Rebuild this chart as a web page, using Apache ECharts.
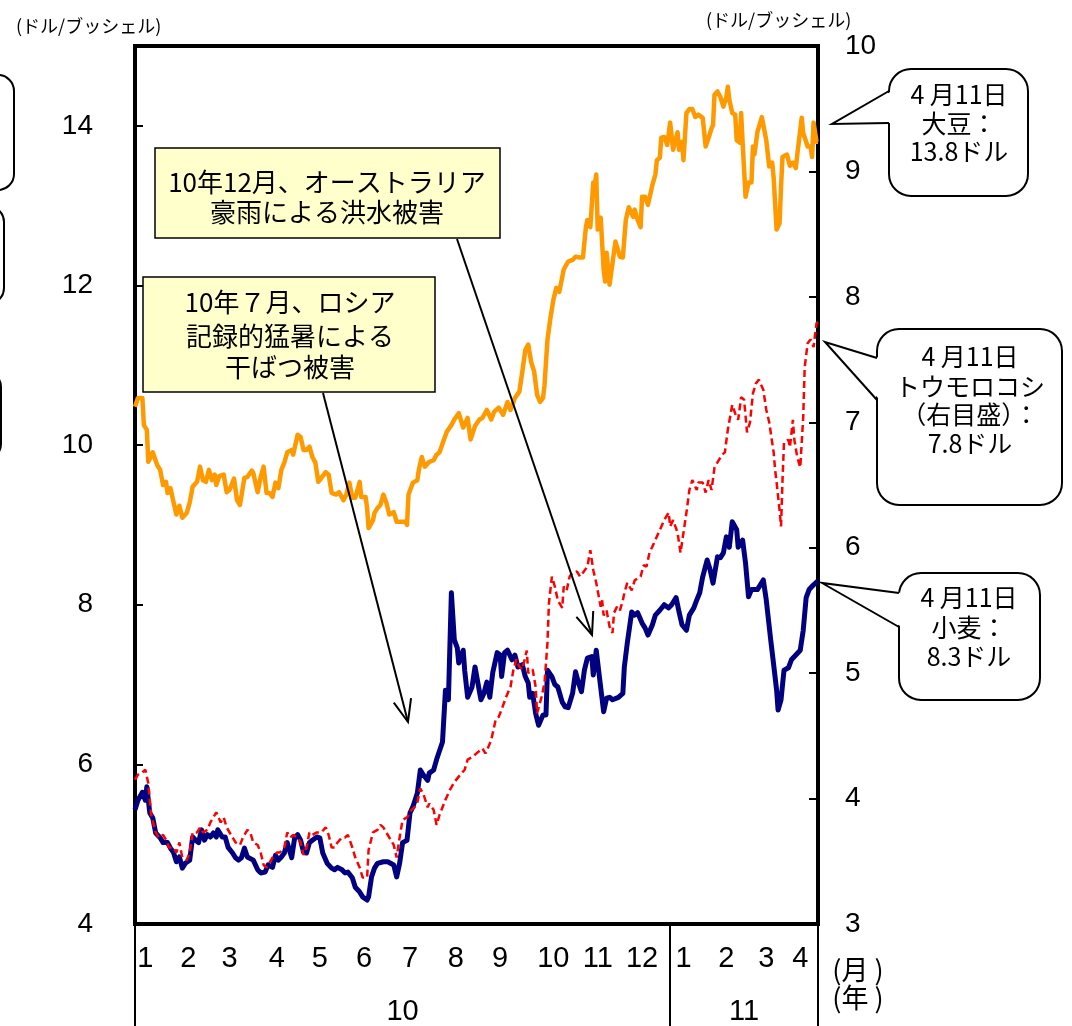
<!DOCTYPE html>
<html>
<head>
<meta charset="utf-8">
<script src="https://cdn.jsdelivr.net/npm/echarts@6/dist/echarts.min.js"></script>
<style>
  html, body { margin: 0; padding: 0; background: #fff; }
  #chart { width: 1072px; height: 1026px; }
</style>
</head>
<body>
<div id="chart"></div>
<script>
// Grain futures, Jan 2010 – Apr 11 2011 (US$ per bushel).
// Day values are days counted from 2010-01-01.

// Soybeans (left scale)
const soyDays = [
  3,5,8,9,11,12,15,18,20,22, 24,25,27,29,31,33,35,38,40,42,
  45,47,49,51,53,55,57,58,60,63, 65,67,70,72,74,77,79,82,83,86,
  88,90,92,94,96,98,100,102,104,106, 109,110,113,115,117,119,121,123,125,127,
  129,132,134,136,139,141,144,146,148,150, 152,155,156,159,160,161,164,165,167,169,
  171,173,175,178,180,184,186,187,188,191, 194,195,197,199,202,
  205,207,209,212,214,217,219,222,225,228, 230,233,236,238,241,244,246,249,252,255,
  257,260,263,265,267,269,271,273,275,277, 279,280,282,284,286,288,290,293,296,299, 301,
  304,306,308,309,311,313,314,315,316,318, 320,321,322,324,326,328,329,331,333,335,
  337,340,341,343,345,346,348,350,353,355, 356,358,359,361,363,365,367,368,370,371,
  373,374,376,378,380,382,384,387,389,391, 393,394,395,397,399,401,403,404,405,407,
  409,410,412,413,414,416,418,420,421,422, 424,427,428,430,432,434,435,437,439,440,
  441,444,446,448,450,451,454,455,458,460, 461,462,464,465
];
const soyPrices = [
  10.48,10.59,10.59,10.25,10.19,9.79,9.91,9.75,9.69,9.50, 9.54,9.40,9.46,9.29,9.13,9.24,9.09,9.15,9.28,9.48,
  9.54,9.73,9.56,9.54,9.69,9.56,9.63,9.50,9.61,9.63, 9.41,9.44,9.58,9.31,9.25,9.59,9.60,9.68,9.65,9.41,
  9.60,9.73,9.40,9.40,9.35,9.53,9.46,9.69,9.78,9.91, 9.94,9.88,10.13,10.10,9.94,9.94,9.98,9.85,9.78,9.54,
  9.59,9.66,9.63,9.40,9.38,9.41,9.31,9.38,9.53,9.34, 9.34,9.54,9.35,9.35,9.21,8.96,9.06,9.15,9.21,9.25,
  9.38,9.28,9.13,9.16,9.04,9.04,9.04,9.00,9.38,9.53, 9.56,9.69,9.85,9.73,9.79,
  9.81,9.88,9.91,10.07,10.17,10.25,10.32,10.40,10.22,10.34, 10.07,10.24,10.32,10.34,10.44,10.32,10.42,10.47,10.38,10.54,
  10.44,10.59,10.67,10.92,11.19,11.26,11.04,10.92,10.63,10.54, 10.59,10.75,11.32,11.59,11.82,11.97,11.92,12.20,12.30,12.32, 12.36,
  12.35,12.35,12.73,12.82,12.73,13.29,13.26,13.39,12.70,12.85, 12.20,12.05,12.41,12.01,12.28,12.55,12.53,12.36,12.35,12.82,
  12.98,12.86,12.95,12.82,12.73,13.11,13.11,13.01,13.26,13.39, 13.57,13.60,13.85,13.86,13.76,14.04,13.70,13.72,13.92,13.70,
  13.80,13.57,14.16,14.21,14.21,14.11,14.14,14.10,13.74,13.85, 13.97,14.01,14.39,14.43,14.36,14.24,14.36,14.49,14.33,14.16,
  14.14,13.82,13.79,14.16,13.80,13.11,13.29,13.29,13.74,13.64, 13.92,14.11,14.10,13.82,13.49,13.54,13.35,12.70,12.78,13.24,
  13.61,13.64,13.50,13.54,13.47,13.64,14.10,13.91,13.74,13.74, 13.61,14.04,13.80,13.80
];

// Wheat (left scale)
const wheatDays = [
  3,5,8,10,11,13,15,17,20,22, 25,27,29,31,33,35,37,40,42,44,
  46,48,50,52,54,56,58,59,62,64, 66,69,71,73,75,77,79,83,86,88,
  91,93,96,98,100,102,104,106,109,111, 113,115,117,119,121,123,126,128,130,133,
  136,138,140,143,145,147,150,152,155,157, 160,161,163,165,167,171,174,178,180,182,
  184,187,189,191,194,196,198,201,202,205, 207,211,213,215,217,219,221,222,225,226,
  228,231,233,234,237,239,241,243,245,248, 250,251,253,255,258,260,262,265,267,269,
  270,272,274,276,279,281,282,285,287,289, 292,294,296,299,301,303,305,307,309,312,
  313,315,317,318,320,322,324,326,330,333, 334,336,339,341,343,346,348,350,353,355,
  358,361,364,366,369,371,373,376,378,381, 383,385,387,390,392,394,397,399,401,403,
  405,407,410,411,414,416,418,420,424,428, 430,433,435,437,438,440,442,445,447,450,
  453,455,457,459,462,465
];
const wheatPrices = [
  5.43,5.55,5.65,5.55,5.72,5.39,5.33,5.14,5.08,5.02, 5.02,4.95,4.90,4.78,4.84,4.70,4.76,4.80,5.09,5.05,
  5.02,5.18,5.05,5.12,5.09,5.14,5.09,5.18,5.09,5.09, 4.96,4.89,4.83,4.80,4.83,4.95,4.84,4.80,4.68,4.64,
  4.65,4.74,4.71,4.86,4.80,4.84,4.89,5.02,4.83,5.08, 5.12,5.05,4.90,4.89,5.02,5.05,5.09,5.08,4.89,4.76,
  4.70,4.68,4.71,4.68,4.64,4.65,4.58,4.46,4.40,4.34, 4.30,4.34,4.59,4.70,4.76,4.78,4.78,4.74,4.59,4.76,
  5.02,5.05,5.39,5.47,5.64,5.93,5.87,5.80,5.89,5.93, 6.06,6.28,6.93,6.81,8.15,7.56,7.46,7.27,7.43,7.18,
  6.84,6.97,7.22,7.22,6.81,6.89,7.03,6.84,7.15,7.40, 7.37,7.10,7.40,7.43,7.31,7.37,7.22,7.25,7.10,7.02,
  6.84,6.89,6.64,6.49,6.62,6.62,7.18,7.10,7.00,6.97, 6.78,6.72,6.71,6.89,7.16,7.02,6.91,7.18,7.33,7.35,
  7.12,7.43,7.12,7.12,6.66,6.83,6.84,6.81,6.84,6.89, 7.22,7.52,7.91,7.87,7.90,7.77,7.71,7.62,7.75,7.87,
  7.93,8.00,7.96,8.00,8.09,7.91,7.75,7.68,7.87,7.96, 8.06,8.15,8.35,8.56,8.44,8.27,8.60,8.59,8.65,8.85,
  8.72,9.04,8.94,8.72,8.81,8.52,8.10,8.19,8.19,8.31, 8.06,7.56,7.25,6.93,6.68,6.81,7.18,7.21,7.31,7.37,
  7.43,7.68,8.09,8.19,8.25,8.30
];

// Corn (right scale)
const cornDays = [
  3,5,8,10,12,14,17,19,22,24, 26,29,31,33,35,38,40,42,45,47,
  49,52,54,56,58,61,63,65,69,71, 74,76,79,81,83,86,88,90,92,94,
  96,99,101,104,106,108,110,113,115,117, 119,121,123,126,129,132,134,136,138,140,
  143,145,147,150,152,155,157,160,161,164, 167,169,171,173,176,178,180,182,184,187,
  190,192,194,196,198,201,202,205,207,209, 213,216,219,223,226,228,231,234,238,240,
  242,244,247,249,251,254,257,259,261,263, 265,268,269,272,274,275,278,280,282,283,
  285,287,289,292,293,295,297,299,302,304, 306,309,311,313,315,318,319,320,322,324,
  326,327,329,331,333,334,336,339,341,345, 347,349,351,353,356,358,361,364,365,367,
  370,372,374,376,378,380,383,384,387,389, 391,393,395,397,400,402,404,407,409,411,
  413,415,417,419,421,423,425,428,430,432, 435,436,437,439,440,441,442,445,446,448,
  449,451,453,455,456,458,460,462,464,465
];
const cornPrices = [
  4.15,4.19,4.21,4.23,4.12,3.87,3.73,3.69,3.71,3.67, 3.61,3.61,3.57,3.65,3.53,3.51,3.57,3.73,3.73,3.77,
  3.73,3.75,3.81,3.85,3.89,3.81,3.85,3.77,3.69,3.65, 3.63,3.69,3.75,3.73,3.65,3.63,3.57,3.47,3.45,3.49,
  3.53,3.57,3.57,3.61,3.73,3.69,3.71,3.69,3.65,3.55, 3.61,3.73,3.71,3.73,3.73,3.77,3.71,3.61,3.61,3.65,
  3.69,3.69,3.71,3.61,3.53,3.45,3.37,3.37,3.59,3.73, 3.75,3.79,3.77,3.73,3.67,3.63,3.53,3.69,3.83,3.85,
  3.91,3.93,3.97,4.08,4.04,3.93,3.96,3.91,3.79,3.87, 3.99,4.07,4.13,4.19,4.23,4.31,4.33,4.36,4.40,4.36,
  4.41,4.47,4.63,4.65,4.71,4.81,4.89,5.03,5.11,5.05, 5.03,5.18,5.00,5.03,4.89,4.68,4.81,4.92,5.24,5.56,
  5.77,5.69,5.58,5.52,5.69,5.66,5.77,5.80,5.81,5.77, 5.80,5.85,5.98,5.82,5.72,5.53,5.58,5.46,5.50,5.37,
  5.32,5.48,5.53,5.50,5.58,5.64,5.72,5.66,5.74,5.77, 5.86,5.85,5.96,6.01,6.09,6.14,6.22,6.28,6.17,6.22,
  6.12,5.96,6.12,6.28,6.46,6.54,6.46,6.52,6.52,6.44, 6.54,6.46,6.64,6.68,6.74,6.76,6.94,7.14,7.07,7.02,
  7.20,7.18,6.92,7.00,7.23,7.31,7.34,7.26,7.10,7.00, 6.76,6.62,6.52,6.30,6.17,6.54,6.84,6.86,6.80,7.02,
  6.86,6.72,6.64,7.04,7.44,7.63,7.66,7.60,7.79,7.80
];

// Axis labels
const monthLabels = ['1','2','3','4','5','6','7','8','9','10','11','12','1','2','3','4'];
const yearLabels = ['10', '11'];

// ---- layout ----
const DAY_MIN = 3, DAY_MAX = 465;               // 2010-01-04 .. 2011-04-11
const monthLabelAt = [10,39,67,99,128,158,189,220,250,286,316,346,374,403,430,453];
const yearLabelAt = [184, 415];
const yearBreaks = [3, 365, 465];
const CJK = '"Noto Sans CJK JP", "Noto Sans CJK SC", sans-serif';
const LAT = '"Liberation Sans", Arial, sans-serif';
const NARROW = '"Liberation Sans Narrow", "Liberation Sans", Arial, sans-serif';

const zip = (a, b) => a.map((d, i) => [d, b[i]]);

const chart = echarts.init(document.getElementById('chart'), null, { renderer: 'canvas' });

const option = {
  animation: false,
  backgroundColor: '#fff',
  grid: {
    left: 135, right: 254, top: 46, bottom: 102,
    show: true, borderColor: '#000', borderWidth: 4, backgroundColor: 'transparent'
  },
  xAxis: {
    type: 'value', min: DAY_MIN, max: DAY_MAX,
    splitLine: { show: false },
    axisLine: { show: false },
    axisTick: {
      show: true, inside: false, length: 102,
      customValues: yearBreaks,
      lineStyle: { color: '#000', width: 2 }
    },
    axisLabel: {
      customValues: monthLabelAt,
      margin: 20,
      color: '#000',
      fontSize: 29,
      fontFamily: NARROW,
      formatter: v => monthLabels[monthLabelAt.indexOf(v)] || ''
    }
  },
  yAxis: [
    {
      type: 'value', position: 'left', min: 4, max: 15, interval: 2,
      splitLine: { show: false },
      axisLine: { show: false },
      axisTick: { show: true, inside: true, length: 8, lineStyle: { color: '#000', width: 2 } },
      axisLabel: {
        margin: 42, color: '#000', fontSize: 28, fontFamily: LAT,
        formatter: v => (v > 14 ? '' : String(v))
      }
    },
    {
      type: 'value', position: 'right', min: 3, max: 10, interval: 1,
      splitLine: { show: false },
      axisLine: { show: false },
      axisTick: { show: true, inside: true, length: 9, lineStyle: { color: '#000', width: 2 } },
      axisLabel: { margin: 27, color: '#000', fontSize: 28, fontFamily: LAT }
    }
  ],
  series: [
    {
      name: '大豆', type: 'line', yAxisIndex: 0, data: zip(soyDays, soyPrices),
      showSymbol: false, symbol: 'none',
      lineStyle: { color: '#FF9900', width: 4.5, join: 'round' }, z: 3
    },
    {
      name: '小麦', type: 'line', yAxisIndex: 0, data: zip(wheatDays, wheatPrices),
      showSymbol: false, symbol: 'none',
      lineStyle: { color: '#000080', width: 5, join: 'round' }, z: 4
    },
    {
      name: 'トウモロコシ', type: 'line', yAxisIndex: 1, data: zip(cornDays, cornPrices),
      showSymbol: false, symbol: 'none',
      lineStyle: { color: '#FF0000', width: 2.5, type: [7, 4] }, z: 5
    }
  ]
};

chart.setOption(option);

// ---- annotations ----
function text(str, x, y, font, align) {
  return {
    type: 'text', x, y, z: 120,
    style: {
      text: str, font, fill: '#000',
      align: align || 'center', verticalAlign: 'middle',
      textAlign: align || 'center', textVerticalAlign: 'middle'
    }
  };
}

function arrow(x1, y1, x2, y2) {
  const ang = Math.atan2(y2 - y1, x2 - x1), L = 24, a = 0.38;
  const p1 = [x2 - L * Math.cos(ang - a), y2 - L * Math.sin(ang - a)];
  const p2 = [x2 - L * Math.cos(ang + a), y2 - L * Math.sin(ang + a)];
  return [
    { type: 'line', z: 110, shape: { x1, y1, x2, y2 }, style: { stroke: '#000', lineWidth: 2 } },
    { type: 'polyline', z: 110, shape: { points: [p1, [x2, y2], p2] }, style: { stroke: '#000', lineWidth: 2, fill: null } }
  ];
}

function callout(box, b1, b2, tip, lines, cx, ys) {
  const els = [
    { type: 'rect', z: 100, shape: { x: box[0], y: box[1], width: box[2], height: box[3], r: 22 },
      style: { fill: '#fff', stroke: '#000', lineWidth: 2 } },
    { type: 'polygon', z: 101, shape: { points: [[b1[0] + 3, b1[1]], tip, [b2[0] + 3, b2[1]]] },
      style: { fill: '#fff', stroke: null } },
    { type: 'polyline', z: 102, shape: { points: [b1, tip, b2] },
      style: { stroke: '#000', lineWidth: 2, fill: null } }
  ];
  lines.forEach((s, i) => els.push(text(s, cx, ys[i], '25px ' + CJK)));
  return els;
}

function noteBox(x, y, w, h, lines, cx, ys) {
  const els = [
    { type: 'rect', z: 100, shape: { x, y, width: w, height: h },
      style: { fill: '#FFFFCC', stroke: '#000', lineWidth: 1.5 } }
  ];
  lines.forEach((s, i) => els.push(text(s, cx, ys[i], '26px ' + CJK)));
  return els;
}

const graphics = [];

// unit captions
graphics.push(text('(ドル/ブッシェル)', 16, 26, '18px ' + CJK, 'left'));
graphics.push(text('(ドル/ブッシェル)', 706, 20, '18px ' + CJK, 'left'));

// callout edges running off the left side
[[75, 115, 14], [206, 98, 4], [371, 89, 1]].forEach(([y, h, r]) => {
  graphics.push({ type: 'rect', z: 100, shape: { x: r - 60, y, width: 60, height: h, r: 16 },
    style: { fill: '#fff', stroke: '#000', lineWidth: 2 } });
});

// event notes
graphics.push(...noteBox(155, 148, 345, 90,
  ['10年12月、オーストラリア', '豪雨による洪水被害'], 327, [182, 212]));
graphics.push(...noteBox(143, 277, 292, 115,
  ['10年７月、ロシア', '記録的猛暑による', '干ばつ被害'], 290, [302, 336, 367]));
graphics.push(...arrow(457, 239, 592, 635));
graphics.push(...arrow(323, 393, 408, 722));

// latest-price callouts
graphics.push(...callout([889, 69, 139, 127], [889, 91], [889, 123], [832, 124],
  ['4 月11日', '大豆：', '13.8ドル'], 959, [94, 123, 151]));
graphics.push(...callout([877, 329, 185, 176], [877, 358], [877, 400], [825, 342],
  ['4 月11日', 'トウモロコシ', '（右目盛）：', '7.8ドル'], 970, [356, 386, 414, 443]));
graphics.push(...callout([899, 573, 141, 127], [899, 593], [899, 627], [822, 583],
  ['4 月11日', '小麦：', '8.3ドル'], 969, [597, 627, 656]));

// axis unit captions
graphics.push(text('(月 )', 858, 970, '27px ' + CJK));
graphics.push(text('(年 )', 858, 998, '27px ' + CJK));

// year labels under the month row
yearLabels.forEach((s, i) => {
  const px = chart.convertToPixel({ xAxisIndex: 0 }, yearLabelAt[i]);
  graphics.push(text(s, px, 1012, '29px ' + NARROW));
});

chart.setOption({ graphic: { elements: graphics } });
</script>
</body>
</html>
